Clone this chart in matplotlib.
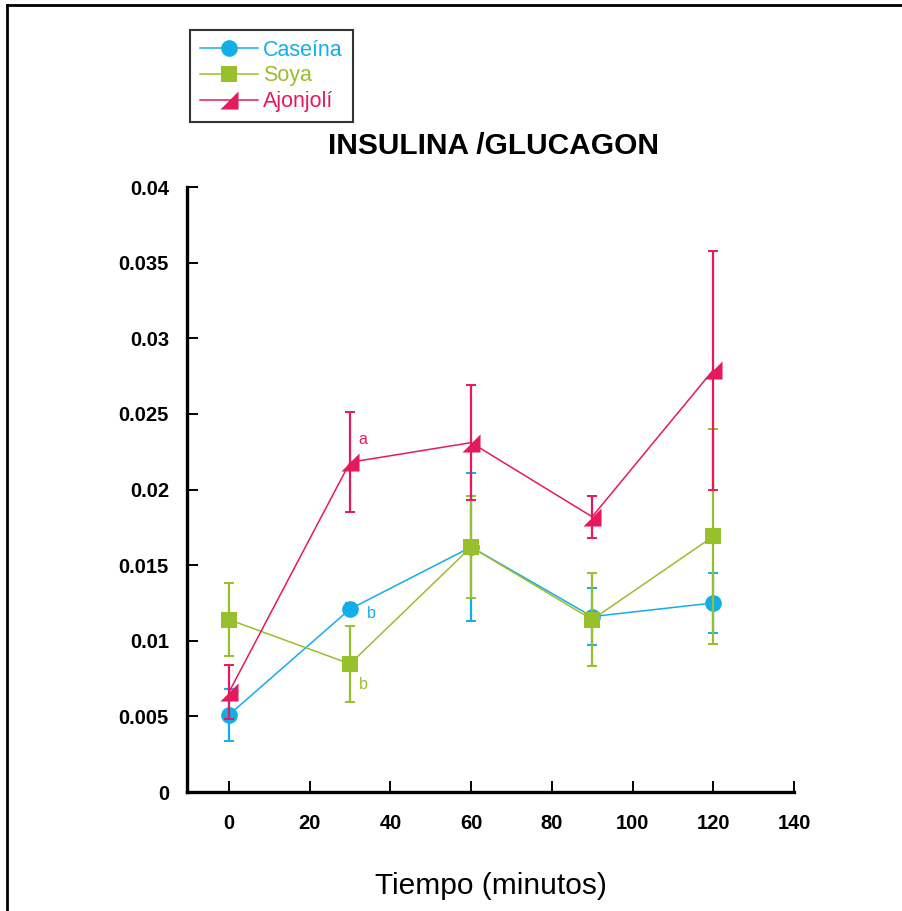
#!/usr/bin/env python3

import matplotlib
matplotlib.use("Agg")
import matplotlib.pyplot as plt
from matplotlib.lines import Line2D

plt.rcParams["font.family"] = ["Liberation Sans", "DejaVu Sans"]

# Tiempo en minutos
tiempo = [0, 30, 60, 90, 120]

# Relacion insulina / glucagon, media y error por grupo
caseina = [0.0051, 0.0121, 0.0162, 0.0116, 0.0125]
caseina_err = [0.0017, 0.0004, 0.0049, 0.0019, 0.0020]

soya = [0.0114, 0.00847, 0.0162, 0.0114, 0.0169]
soya_err = [0.0024, 0.0025, 0.0034, 0.0031, 0.0071]

ajonjoli = [0.0066, 0.0218, 0.0231, 0.0182, 0.0279]
ajonjoli_err = [0.0018, 0.0033, 0.0038, 0.0014, 0.0079]

# Letras de significancia (x, y, texto, grupo)
letras = [(32, 0.0233, "a", "ajonjoli"),
          (34.2, 0.0118, "b", "caseina"),
          (32.2, 0.0071, "b", "soya")]

colores = {"caseina": "#12aee8", "soya": "#98bf2c", "ajonjoli": "#e5195e"}

# Triangulo rectangulo relleno hacia la derecha
tri = [(-1, -1), (1, -1), (1, 1), (-1, -1)]

fig = plt.figure(figsize=(9.02, 9.11), dpi=100)
ax = fig.add_axes([0.2073, 0.1306, 0.6729, 0.6641])

series = [("Caseína", caseina, caseina_err, "o", 12, colores["caseina"]),
          ("Soya", soya, soya_err, "s", 11.5, colores["soya"]),
          ("Ajonjolí", ajonjoli, ajonjoli_err, tri, 13, colores["ajonjoli"])]

handles = []
for i, (nombre, y, err, mk, ms, col) in enumerate(series):
    # barras de error con sus topes
    ax.errorbar(tiempo, y, yerr=err, fmt="none", ecolor=col, elinewidth=1.6,
                capsize=3.8, capthick=1.4, zorder=3 + i)
    # linea con marcadores
    ax.plot(tiempo, y, color=col, lw=1.1, marker=mk, markersize=ms,
            markeredgewidth=0, zorder=3 + i)
    handles.append(Line2D([0], [0], color=col, lw=1.1, marker=mk,
                          markersize=ms, markeredgewidth=0, label=nombre))

for x, y, t, g in letras:
    ax.text(x, y, t, color=colores[g], fontsize=11.5, ha="left", va="center")

ax.set_xlim(-10.4, 140)
ax.set_ylim(0, 0.04)
ax.set_xticks([0, 20, 40, 60, 80, 100, 120, 140])
ax.set_yticks([0, 0.005, 0.01, 0.015, 0.02, 0.025, 0.03, 0.035, 0.04])
ax.set_yticklabels(["0", "0.005", "0.01", "0.015", "0.02", "0.025",
                    "0.03", "0.035", "0.04"])

for s in ["top", "right"]:
    ax.spines[s].set_visible(False)
for s in ["left", "bottom"]:
    ax.spines[s].set_linewidth(2.4)

ax.tick_params(axis="both", direction="in", length=8, width=1.4)
ax.tick_params(axis="y", pad=13, labelsize=14.5)
ax.tick_params(axis="x", pad=16, labelsize=14.5)
for lab in ax.get_xticklabels() + ax.get_yticklabels():
    lab.set_fontweight("bold")

ax.set_xlabel("Tiempo (minutos)", fontsize=21.5, labelpad=28)
fig.text(0.547, 0.84, "INSULINA /GLUCAGON", fontsize=21.5, fontweight="bold",
         ha="center", va="center")

leg = fig.legend(handles=handles, loc="upper left",
                 bbox_to_anchor=(190 / 902, 1 - 30 / 911), fontsize=15.5,
                 frameon=True, fancybox=False, handlelength=2.7,
                 handletextpad=0.25, borderpad=0.45, labelspacing=0.22,
                 borderaxespad=0)
leg.get_frame().set_edgecolor("black")
leg.get_frame().set_linewidth(1.5)
for txt, (_, _, _, _, _, col) in zip(leg.get_texts(), series):
    txt.set_color(col)

# Marco superior e izquierdo de la figura
fig.add_artist(Line2D([7 / 902, 1], [1 - 5 / 911, 1 - 5 / 911],
                      color="black", lw=2, transform=fig.transFigure))
fig.add_artist(Line2D([7 / 902, 7 / 902], [0, 1 - 5 / 911],
                      color="black", lw=2, transform=fig.transFigure))

fig.savefig("out.png", dpi=100)
